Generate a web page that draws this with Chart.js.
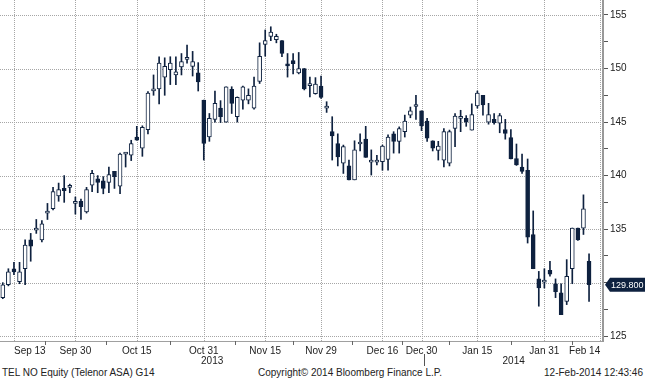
<!DOCTYPE html>
<html><head><meta charset="utf-8">
<script src="https://cdn.jsdelivr.net/npm/chart.js@4"></script>
<style>
html,body{margin:0;padding:0;background:#fff;}
#wrap{position:relative;width:645px;height:380px;overflow:hidden;}
#c{position:absolute;left:0;top:0;}
.foot{position:absolute;top:367px;font:10px 'Liberation Sans',Arial,sans-serif;color:#222;white-space:nowrap;line-height:12px;}
</style></head><body>
<div id="wrap">
<canvas id="c" width="645" height="366"></canvas>
<div class="foot" style="left:2px">TEL NO Equity (Telenor ASA) G14</div>
<div class="foot" style="left:258px">Copyright© 2014 Bloomberg Finance L.P.</div>
<div class="foot" style="right:2px">12-Feb-2014 12:43:46</div>
</div>
<script>
const dates = [
 'Sep 11','Sep 12','Sep 13','Sep 16','Sep 17','Sep 18','Sep 19','Sep 20','Sep 23','Sep 24','Sep 25','Sep 26','Sep 27','Sep 30',
 'Oct 1','Oct 2','Oct 3','Oct 4','Oct 7','Oct 8','Oct 9','Oct 10','Oct 11','Oct 14','Oct 15','Oct 16','Oct 17','Oct 18','Oct 21','Oct 22','Oct 23','Oct 24','Oct 25','Oct 28','Oct 29','Oct 30','Oct 31',
 'Nov 1','Nov 4','Nov 5','Nov 6','Nov 7','Nov 8','Nov 11','Nov 12','Nov 13','Nov 14','Nov 15','Nov 18','Nov 19','Nov 20','Nov 21','Nov 22','Nov 25','Nov 26','Nov 27','Nov 28','Nov 29',
 'Dec 2','Dec 3','Dec 4','Dec 5','Dec 6','Dec 9','Dec 10','Dec 11','Dec 12','Dec 13','Dec 16','Dec 17','Dec 18','Dec 19','Dec 20','Dec 23','Dec 27','Dec 30',
 'Jan 2','Jan 3','Jan 6','Jan 7','Jan 8','Jan 9','Jan 10','Jan 13','Jan 14','Jan 15','Jan 16','Jan 17','Jan 20','Jan 21','Jan 22','Jan 23','Jan 24','Jan 27','Jan 28','Jan 29','Jan 30','Jan 31',
 'Feb 3','Feb 4','Feb 5','Feb 6','Feb 7','Feb 10','Feb 11','Feb 12','Feb 13','Feb 14'
];
const open = [
 128.6,129.8,131.3,130.1,131.3,134.0,134.9,134.0,136.5,136.9,138.1,138.8,138.9,137.4,
 137.6,136.6,139.1,139.7,139.5,139.35,140.4,139.0,142.0,141.9,143.6,142.55,144.3,147.9,148.1,149.2,149.9,149.4,150.15,150.85,150.2,149.6,147.05,
 143.6,145.25,146.3,145.0,148.05,145.5,147.05,147.05,146.3,148.8,152.25,153.0,152.7,152.6,150.35,150.75,149.6,150.0,148.4,147.65,148.35,
 146.3,144.1,143.0,141.15,140.9,139.6,142.95,143.4,141.25,141.25,141.3,141.5,143.9,143.2,144.1,145.65,146.45,146.05,
 145.1,143.25,142.35,141.45,141.15,144.4,145.35,145.35,144.25,146.5,147.5,145.0,145.25,144.9,144.3,143.55,141.6,140.8,140.5,134.5,130.35,130.05,
 131.15,129.9,129.05,128.25,131.3,135.1,135.1,132.0,null,null
];
const high = [
 130.0,131.3,131.9,131.9,134.0,134.6,135.9,135.8,137.4,138.9,139.3,140.0,139.2,138.0,
 137.8,138.9,140.5,140.0,139.9,140.8,140.4,142.1,142.15,143.3,144.6,144.65,147.85,149.4,151.1,151.0,151.1,151.1,151.4,152.2,151.6,150.55,147.05,
 145.8,147.9,147.0,148.3,148.3,147.35,148.35,148.1,149.2,152.4,153.6,153.9,153.2,152.6,151.4,151.4,151.5,150.0,149.2,149.15,149.3,
 146.9,145.5,143.9,142.85,141.45,143.25,143.9,144.6,142.4,141.9,142.85,143.8,144.1,144.55,145.65,146.4,147.5,146.05,
 145.35,143.25,143.2,144.4,144.25,145.8,146.1,145.6,146.7,147.9,147.5,146.75,145.8,145.8,145.25,144.3,142.95,142.0,141.55,136.7,131.05,131.3,
 132.0,130.35,129.9,132.15,135.1,135.1,138.2,132.7,null,null
];
const low = [
 128.5,129.7,130.75,129.9,129.8,132.0,134.6,133.8,135.9,136.8,137.6,137.5,138.4,136.4,
 135.9,136.5,138.5,138.4,138.3,138.4,138.8,138.3,140.8,141.4,143.3,141.8,143.9,147.5,146.7,147.5,148.5,148.5,149.4,150.5,149.3,147.9,141.45,
 143.2,145.0,144.95,145.0,145.8,145.0,146.2,146.7,146.2,148.6,151.15,152.6,152.4,151.1,149.2,149.5,149.5,148.0,147.35,147.6,147.2,
 145.9,141.45,140.9,140.2,139.6,139.6,142.3,141.7,140.05,141.0,140.5,140.5,142.1,142.1,143.6,145.4,145.25,144.2,
 143.2,142.3,141.45,140.8,140.9,142.7,144.1,144.6,144.25,146.3,145.65,144.8,144.8,144.0,143.4,141.55,140.95,140.2,133.7,131.3,127.8,129.5,
 130.6,128.6,127.0,127.95,129.9,133.95,134.5,128.25,null,null
];
const close = [
 129.8,131.0,131.0,131.0,133.5,133.4,135.0,135.5,136.6,138.5,138.7,138.6,139.0,137.5,
 137.1,138.7,140.2,139.35,138.8,140.1,139.9,142.0,142.05,143.0,143.3,144.5,147.7,148.1,150.5,150.2,150.5,149.7,150.65,150.95,150.65,148.75,143.0,
 145.35,146.75,145.5,148.3,146.75,147.3,148.3,147.5,148.35,151.15,152.6,153.4,153.0,151.4,150.25,150.45,150.0,148.1,148.5,148.55,147.3,
 146.35,143.7,141.75,142.7,139.6,142.4,143.05,141.7,141.35,141.35,142.75,143.6,143.2,144.4,145.1,146.05,146.55,144.65,
 143.5,142.55,142.75,144.1,144.1,145.55,145.45,145.0,145.7,147.7,146.6,145.7,144.95,145.6,143.95,141.55,141.0,140.4,134.25,131.3,129.5,130.2,
 130.8,129.15,127.0,130.6,135.1,134.0,136.9,129.8,null,null
];
const tickLabels = ['Sep 13','Sep 30','Oct 15','Oct 31','Nov 15','Nov 29','Dec 16','Dec 30','Jan 15','Jan 31','Feb 14'];
const yearLabels = ['2013','2014'];
const yearEnd = 'Dec 30';
const priceTicks = [125,127.5,130,132.5,135,137.5,140,142.5,145,147.5,150,152.5,155];
const lastPrice = 129.8;

const NAVY = '#0e213f';
const FONT = {family:"'Liberation Sans', Arial, sans-serif", size:10};
const TXT = '#222';
const GRID = '#a6a6a6';

const bodies = dates.map((d,i)=> open[i]==null ? null : [Math.min(open[i],close[i]), Math.max(open[i],close[i])]);
const wicks = dates.map((d,i)=> low[i]==null ? null : [low[i], high[i]]);
const isUp = i => close[i] >= open[i];

// dotted grid drawn from the scales' own ticks
const dottedGrid = {
  id:'dottedGrid',
  beforeDatasetsDraw(chart){
    const {ctx, chartArea:a, scales:{x,y}} = chart;
    ctx.save();
    ctx.strokeStyle = GRID; ctx.lineWidth = 1; ctx.setLineDash([1,1]);
    x.ticks.forEach(t => {
      const px = Math.round(x.getPixelForValue(t.value)) + 0.5;
      ctx.beginPath(); ctx.moveTo(px, a.top); ctx.lineTo(px, a.bottom); ctx.stroke();
    });
    y.ticks.forEach(t => {
      if (t.value % 5 !== 0) return;
      const py = Math.round(y.getPixelForValue(t.value)) + 0.5;
      ctx.beginPath(); ctx.moveTo(a.left, py); ctx.lineTo(a.right, py); ctx.stroke();
    });
    ctx.restore();
  }
};

const overlay = {
  id:'overlay',
  afterDraw(chart){
    const {ctx, scales:{x,y}} = chart;
    ctx.save();
    // small axis marks between labelled dates
    const idx = tickLabels.map(l => dates.indexOf(l));
    ctx.strokeStyle = '#666'; ctx.lineWidth = 1;
    for (let k = 0; k < idx.length - 1; k++) {
      const px = Math.round(x.getPixelForValue((idx[k] + idx[k+1]) / 2)) + 0.5;
      ctx.beginPath(); ctx.moveTo(px, x.top); ctx.lineTo(px, x.top + 4); ctx.stroke();
    }
    // year row
    const xb = x.getPixelForValue(dates.indexOf(yearEnd) + 0.5);
    ctx.font = FONT.size + 'px ' + FONT.family;
    ctx.fillStyle = TXT; ctx.textAlign='center'; ctx.textBaseline='middle';
    const yr = x.bottom - 5;
    ctx.fillText(yearLabels[0], (x.left + xb)/2, yr);
    ctx.fillText(yearLabels[1], (xb + x.right)/2, yr);
    ctx.strokeStyle = '#555';
    ctx.beginPath(); ctx.moveTo(Math.round(xb)+0.5, yr-7); ctx.lineTo(Math.round(xb)+0.5, yr+5); ctx.stroke();
    // last price tag
    const py = y.getPixelForValue(lastPrice);
    const x0 = y.left + 2, h = 14;
    ctx.fillStyle = NAVY;
    ctx.beginPath();
    ctx.moveTo(x0, py);
    ctx.lineTo(x0+5, py-h/2);
    ctx.lineTo(chart.width, py-h/2);
    ctx.lineTo(chart.width, py+h/2);
    ctx.lineTo(x0+5, py+h/2);
    ctx.closePath(); ctx.fill();
    ctx.fillStyle = '#fff'; ctx.textAlign='left';
    ctx.font = '9px ' + FONT.family;
    ctx.fillText(lastPrice.toFixed(3), x0+6, py+0.5);
    ctx.restore();
  }
};

new Chart(document.getElementById('c'), {
  type:'bar',
  data:{
    labels: dates,
    datasets:[
      {label:'body', data:bodies, order:0, grouped:false, barThickness:4, minBarLength:2,
       backgroundColor: c => isUp(c.dataIndex) ? '#ffffff' : NAVY,
       borderColor: NAVY, borderWidth:1, borderSkipped:false},
      {label:'wick', data:wicks, order:1, grouped:false, barThickness:1,
       backgroundColor: NAVY, borderWidth:0}
    ]
  },
  options:{
    responsive:false, animation:false,
    layout:{padding:0, autoPadding:false},
    plugins:{legend:{display:false}, tooltip:{enabled:false}},
    scales:{
      x:{
        offset:true,
        afterBuildTicks: s => { s.ticks = s.ticks.filter(t => tickLabels.includes(dates[t.value])); },
        afterFit: s => { s.height = 25; s.paddingLeft = 0; s.paddingRight = 0; },
        ticks:{autoSkip:false, maxRotation:0, minRotation:0, align:'inner', padding:4, font:FONT, color:TXT},
        grid:{display:true, drawOnChartArea:false, drawTicks:false},
        border:{color:'#a0a0a0', width:1}
      },
      y:{
        position:'right', min:124.55, max:156.4,
        afterBuildTicks: s => { s.ticks = priceTicks.map(v => ({value:v})); },
        afterFit: s => { s.width = 42; s.paddingTop = 0; s.paddingBottom = 0; },
        ticks:{padding:2, font:FONT, color:TXT,
          callback: v => (v % 5 === 0 && v !== 130) ? String(v) : ''},
        grid:{drawOnChartArea:false, tickLength:5, tickColor:'#555'},
        border:{color:'#999', width:2}
      }
    }
  },
  plugins:[dottedGrid, overlay]
});
</script>
</body></html>
